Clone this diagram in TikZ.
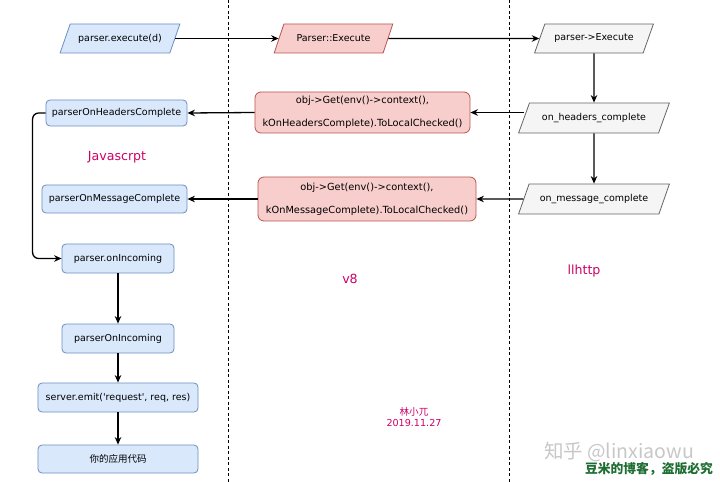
\documentclass[tikz,border=0pt]{standalone}
\usepackage{fontspec}
\setmainfont{DejaVu Sans}
\newfontfamily\cjk{Noto Sans CJK SC}
\usetikzlibrary{shapes.geometric, arrows.meta}
\definecolor{jsblue}{HTML}{DAE8FC}
\definecolor{jsline}{HTML}{6C8EBF}
\definecolor{veight}{HTML}{F8CECC}
\definecolor{veightline}{HTML}{B85450}
\definecolor{llgray}{HTML}{F5F5F5}
\definecolor{llline}{HTML}{666666}
\definecolor{tagpink}{RGB}{204,0,102}
\definecolor{markgreen}{RGB}{30,110,50}

\begin{document}
\begin{tikzpicture}[
          x=1bp, y=-1bp,
          basebox/.style={rectangle, rounded corners=4bp, draw=jsline, fill=jsblue, line width=0.8bp, font=\fontsize{9.5bp}{11bp}\selectfont, minimum height=28bp, inner xsep=3bp},
          slantbox/.style={trapezium, trapezium left angle=60, trapezium right angle=120, trapezium stretches=true, line width=0.8bp, font=\fontsize{9.5bp}{11bp}\selectfont, minimum height=29bp, minimum width=120bp},
          callbox/.style={rectangle, rounded corners=6bp, draw=veightline, fill=veight, line width=0.8bp, align=center, font=\fontsize{9.8bp}{23bp}\selectfont, inner xsep=2bp},
          arr/.style={-{Stealth[length=7.5bp,width=6.5bp]}, line width=1.3bp},
          lane/.style={dash pattern=on 3bp off 2.5bp, line width=0.9bp},
          tag/.style={text=tagpink, font=\fontsize{12.6bp}{14bp}\selectfont}
        ]
          \useasboundingbox (0,0) rectangle (720,482);
          % lanes
          \draw[lane] (228,0) -- (228,482);
          \draw[lane] (509,0) -- (509,482);

          \node[slantbox, draw=jsline, fill=jsblue] (jsexec) at (120,38.5) {parser.execute(d)};
          \node[slantbox, draw=veightline, fill=veight, minimum width=119bp] (vexec) at (333.5,38.5) {Parser::Execute};
          \node[slantbox, draw=llline, fill=llgray, minimum width=119bp] (llexec) at (594,38.5) {parser->Execute};
          \node[slantbox, draw=llline, fill=llgray, minimum width=151bp, minimum height=30bp] (llhdr) at (594,118) {on\_headers\_complete};
          \node[slantbox, draw=llline, fill=llgray, minimum width=151bp, minimum height=30bp] (llmsg) at (594,199) {on\_message\_complete};

          \node[callbox, minimum width=215bp, minimum height=41bp] (vhdr) at (362.5,112.5) {obj->Get(env()->context(),\\kOnHeadersComplete).ToLocalChecked()};
          \node[callbox, minimum width=218bp, minimum height=44bp] (vmsg) at (367,199) {obj->Get(env()->context(),\\kOnMessageComplete).ToLocalChecked()};

          \node[basebox, minimum width=141bp, minimum height=26bp] (jshdr) at (116.5,113) {parserOnHeadersComplete};
          \node[basebox, minimum width=145bp] (jsmsg) at (114.5,199) {parserOnMessageComplete};
          \node[basebox, minimum width=112bp, minimum height=29bp] (jsinc) at (118,258.5) {parser.onIncoming};
          \node[basebox, minimum width=112bp, minimum height=29bp] (jsparse) at (118,338.5) {parserOnIncoming};
          \node[basebox, minimum width=160bp, minimum height=29bp] (jsemit) at (118,397.5) {server.emit(\textquotesingle request\textquotesingle, req, res)};
          \node[basebox, minimum width=160bp] (jsapp) at (118,459) {\cjk 你的应用代码};

          \node[tag] (jslabel) at (117,157) {Javascrpt};
          \node[tag] (vlabel) at (350,279) {v8};
          \node[tag] (lllabel) at (584,271) {llhttp};
          \node[text=tagpink, align=center, font=\fontsize{9.6bp}{11bp}\selectfont] (sign) at (414,417) {{\cjk 林小兀}\\2019.11.27};
          \node[text=black!22, font=\cjk\fontsize{19.5bp}{20bp}\selectfont] (zhihu) at (619,452) {知乎 @linxiaowu};
          \node[text=markgreen, font=\cjk\bfseries\fontsize{12.8bp}{14bp}\selectfont] (blog) at (649,469) {豆米的博客，盗版必究};

          \draw[arr] (jsexec) -- (vexec);
          \draw[arr] (vexec) -- (llexec);
          \draw[arr] (llexec) -- (llhdr);
          \draw[arr] (llhdr) -- (llmsg);
          \draw[arr] (llhdr.west |- vhdr.east) -- (vhdr.east);
          \draw[arr] (vhdr.west) -- (jshdr.east);
          \draw[arr] (llmsg) -- (vmsg);
          \draw[arr] (vmsg) -- (jsmsg);
          \draw[arr, rounded corners=6bp] (jshdr.west) -- ++(-13,0) |- (jsinc.west);
          \draw[arr] (jsinc) -- (jsparse);
          \draw[arr] (jsparse) -- (jsemit);
          \draw[arr] (jsemit) -- (jsapp);
        \end{tikzpicture}
\end{document}
